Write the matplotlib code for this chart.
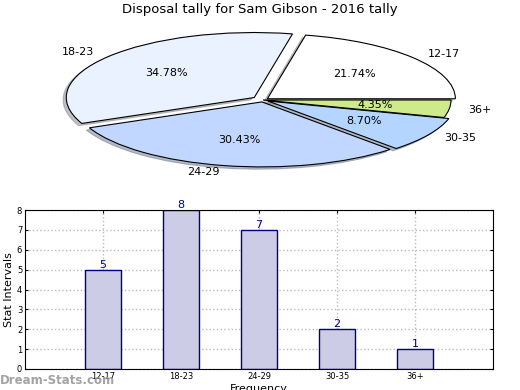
import matplotlib
matplotlib.use("Agg")
import matplotlib.pyplot as plt

# ---------- data ----------
groups = ["12-17", "18-23", "24-29", "30-35", "36+"]
counts = [5, 8, 7, 2, 1]
pie_colors = ["#ffffff", "#eaf1ff", "#c2d7ff", "#b3d5ff", "#cdeb8b"]
explode = [0.03, 0.06, 0.03, 0.03, 0.0]

W, H = 520, 390
fig = plt.figure(figsize=(W / 100, H / 100), dpi=100)

# ---------- pie (squashed ellipse) ----------
cx, cy, rx, ry = 263, 100, 188, 65
pad = 1.1
axp = fig.add_axes([(cx - rx * pad) / W, (H - cy - ry * pad) / H,
                    2 * rx * pad / W, 2 * ry * pad / H])
axp.pie(counts, labels=groups, colors=pie_colors, explode=explode,
        autopct="%.2f%%", startangle=0,
        shadow={"ox": -0.012, "oy": -0.025, "shade": 0.45},
        wedgeprops={"edgecolor": "black", "linewidth": 0.8},
        textprops={"fontsize": 8})
axp.set_aspect("auto")
axp.set_xlim(-pad, pad)
axp.set_ylim(-pad, pad)
axp.axis("off")

fig.text(260 / W, 1 - 10 / H, "Disposal tally for Sam Gibson - 2016 tally",
         ha="center", va="center", fontsize=9.5)

# ---------- bar chart ----------
axb = fig.add_axes([25 / W, 21 / H, 468 / W, 159 / H])
xs = list(range(len(groups)))
axb.bar(xs, counts, width=0.46, color="#ccccE6", edgecolor="#000080",
        linewidth=1, zorder=2)
for x, v in zip(xs, counts):
    axb.text(x, v, str(v), ha="center", va="bottom", color="#000080",
             fontsize=8, zorder=3, clip_on=False)
axb.set_xlim(-1, 5)
axb.set_ylim(0, 8)
axb.set_xticks(xs)
axb.set_xticklabels(groups)
axb.set_yticks(range(0, 9))
axb.tick_params(labelsize=6, direction="in", length=2, top=True, right=True, pad=2)
axb.grid(True, ls=":", color="#bbbbbb", lw=1, zorder=0)
axb.set_ylabel("Stat Intervals", fontsize=8, labelpad=2)
axb.set_xlabel("Frequency", fontsize=8, labelpad=2)

fig.text(0, 10 / H, "Dream-Stats.com", color="#999999", fontsize=8.5,
         ha="left", va="center", weight="bold", alpha=0.9)

fig.savefig("out.png", dpi=100)
